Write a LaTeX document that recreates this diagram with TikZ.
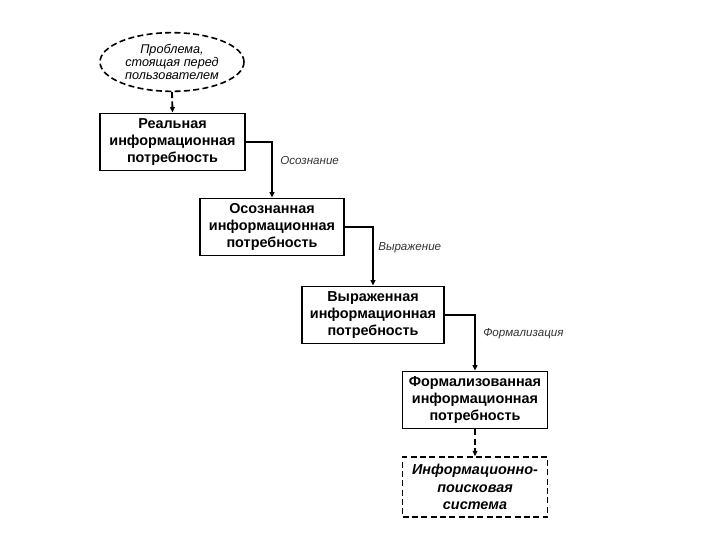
\documentclass[tikz,border=0pt]{standalone}
\usepackage{fontspec}
\setmainfont{Liberation Sans}
\usetikzlibrary{shapes.geometric,arrows.meta}
\begin{document}
\begin{tikzpicture}[x=0.75pt,y=-0.75pt,
  box/.style={draw,line width=1.2pt,align=center,inner sep=0pt,
    minimum width=108pt,minimum height=43pt,font=\fontsize{10.8}{12.9}\selectfont\bfseries},
  dbox/.style={box,dashed,dash pattern=on 4.5pt off 2.5pt,font=\fontsize{10.8}{12.9}\selectfont\bfseries\itshape},
  ell/.style={draw,ellipse,line width=1.2pt,dashed,dash pattern=on 4.5pt off 2.5pt,align=center,inner sep=0pt,
    minimum width=108pt,minimum height=44pt,font=\fontsize{9.5}{10}\selectfont\itshape},
  conn/.style={line width=1.2pt,-{Triangle[length=4pt,width=3.5pt]}},
  dconn/.style={conn,line width=1.4pt,dashed,dash pattern=on 4.5pt off 2.5pt},
  lbl/.style={anchor=west,inner sep=0pt,text=black!80,font=\fontsize{8.7}{9}\selectfont\itshape}]
\useasboundingbox (0,0) rectangle (720,540);
\node[ell] (e) at (172,62) {Проблема,\\стоящая перед\\пользователем};
\node[box,minimum width=108.75pt] (b1) at (172.5,142) {Реальная\\информационная\\потребность};
\node[box] (b2) at (272,227) {Осознанная\\информационная\\потребность};
\node[box,minimum width=106.5pt] (b3) at (373,315) {Выраженная\\информационная\\потребность};
\node[box,minimum width=108.75pt] (b4) at (475,400) {Формализованная\\информационная\\потребность};
\node[dbox,minimum width=108.75pt,minimum height=45pt] (b5) at (475,487) {Информационно-\\поисковая\\система};
\draw[dconn] (e.south) -- (b1.north);
\draw[conn] (b1.east) -| (b2.north);
\draw[conn] (b2.east) -| (b3.north);
\draw[conn] (b3.east) -| (b4.north);
\draw[dconn] (b4.south) -- (b5.north);
\node[lbl] (l1) at (280,161) {Осознание};
\node[lbl] (l2) at (378,248) {Выражение};
\node[lbl] (l3) at (483,334) {Формализация};
\end{tikzpicture}
\end{document}
